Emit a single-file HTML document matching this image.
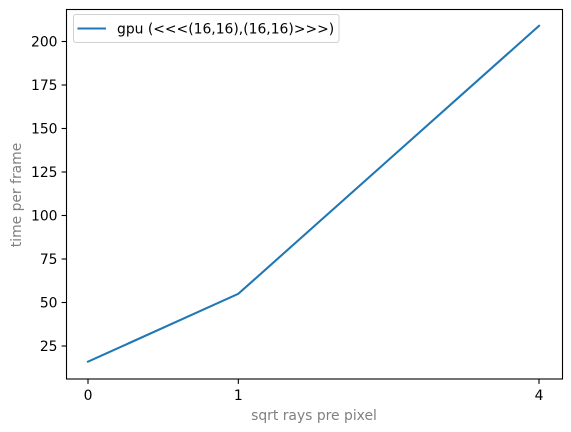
<!DOCTYPE html>
<html><head><meta charset="utf-8"><style>
html,body{margin:0;padding:0;background:#fff;width:571px;height:432px;overflow:hidden}
svg{display:block;font-family:"DejaVu Sans","Liberation Sans",sans-serif}
</style></head><body>
<svg id="chart" width="571" height="432" viewBox="0 0 571 432" xmlns="http://www.w3.org/2000/svg">
<rect width="571" height="432" fill="#fff"/>
<g id="plot"></g>
</svg>
<script>
const xValues = [0, 1, 3];
const yValues = [16, 55, 209];
const xTicks = [0, 1, 3];
const xTickLabels = ["0", "1", "4"];
const yTicks = [25, 50, 75, 100, 125, 150, 175, 200];
const seriesName = "gpu (<<<(16,16),(16,16)>>>)";

const L = 66.5, R = 562.5, T = 9.5, B = 379;
const FS = 13.9;
function xs(v){ return 88 + v * 150.33; }
function ys(v){ return 302.5 - (v - 50) * 1.74; }
const NS = "http://www.w3.org/2000/svg";
const g = document.getElementById('plot');
function mk(tag, attrs, text){
  const e = document.createElementNS(NS, tag);
  for (const k in attrs) e.setAttribute(k, attrs[k]);
  if (text !== undefined) e.textContent = text;
  g.appendChild(e);
  return e;
}

const pts = xValues.map((x,i)=> xs(x).toFixed(2)+','+ys(yValues[i]).toFixed(2)).join(' ');
const line = mk('polyline', {points: pts, fill: 'none', stroke: '#1f77b4', 'stroke-width': 2.08, 'stroke-linecap': 'square'});



const frame = mk('rect', {x: L, y: T, width: R-L, height: B-T, fill: 'none', stroke: '#000', 'stroke-width': 1.1});



xTicks.forEach((t, i) => {
  const x = xs(t);
  const tk = mk('line', {x1: x, x2: x, y1: B, y2: B+4.9, stroke: '#000', 'stroke-width': 1.1});
  
  
  const lb = mk('text', {x: x, y: B+21, 'text-anchor': 'middle', 'font-size': FS, fill: '#000'}, xTickLabels[i]);
  
  
});
yTicks.forEach(t => {
  const y = ys(t);
  const tk = mk('line', {x1: L-4.9, x2: L, y1: y, y2: y, stroke: '#000', 'stroke-width': 1.1});
  
  
  const lb = mk('text', {x: L-9, y: y+5, 'text-anchor': 'end', 'font-size': FS, fill: '#000'}, String(t));
  
  
});

const xt = mk('text', {x: 314, y: 420, 'text-anchor': 'middle', 'font-size': FS, fill: '#808080'}, 'sqrt rays pre pixel');


const yt = mk('text', {x: 0, y: 0, 'text-anchor': 'middle', 'font-size': FS, fill: '#808080', transform: 'translate(21,195) rotate(-90)'}, 'time per frame');



const lbox = mk('rect', {x: 73.5, y: 14.5, width: 265.5, height: 28, rx: 2.5, fill: '#fff', 'fill-opacity': 0.8, stroke: '#d0d0d0', 'stroke-width': 1});


const lline = mk('line', {x1: 77.5, x2: 106, y1: 28.5, y2: 28.5, stroke: '#1f77b4', 'stroke-width': 2.08});


const ltext = mk('text', {x: 117, y: 33.5, 'font-size': FS, fill: '#000'}, seriesName);


</script>
</body></html>
